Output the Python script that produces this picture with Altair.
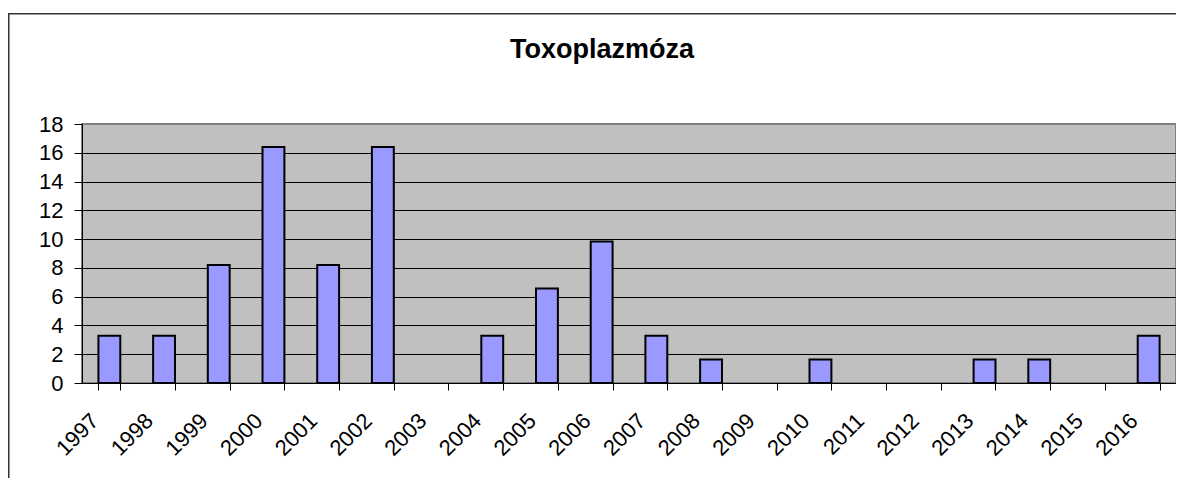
import altair as alt
import pandas as pd

years = ["1997", "1998", "1999", "2000", "2001", "2002", "2003", "2004", "2005", "2006",
         "2007", "2008", "2009", "2010", "2011", "2012", "2013", "2014", "2015", "2016"]
values = [3.28, 3.28, 8.2, 16.4, 8.2, 16.4, 0, 3.28, 6.56, 9.84,
          3.28, 1.64, 0, 1.64, 0, 0, 1.64, 1.64, 0, 3.28]
y_ticks = [0, 2, 4, 6, 8, 10, 12, 14, 16, 18]
title_text = "Toxoplazmóza"

df = pd.DataFrame({"year": years, "value": values})
FONT = "Liberation Sans"

one = alt.Data(values=[{"k": 1}])

top_line = alt.Chart(one).mark_rect(fill="#333333", strokeWidth=0).encode(
    x=alt.value(-74), x2=alt.value(1094), y=alt.value(-111), y2=alt.value(-109.5)
)
left_line = alt.Chart(one).mark_rect(fill="#333333", strokeWidth=0).encode(
    x=alt.value(-74), x2=alt.value(-72.5), y=alt.value(-111), y2=alt.value(400)
)
title = alt.Chart(one).mark_text(
    text=title_text, font=FONT, fontSize=27, fontWeight="bold", color="black",
    align="center", baseline="alphabetic"
).encode(x=alt.value(520), y=alt.value(-66))

bars = alt.Chart(df).transform_filter("datum.value > 0").mark_bar(
    color="#9999FF", stroke="black", strokeWidth=2
).encode(
    x=alt.X("year:N", sort=years, title=None,
            scale=alt.Scale(domain=years, paddingInner=0.6, paddingOuter=0.3),
            axis=alt.Axis(labelAngle=-45, labelAlign="right", labelBaseline="middle",
                          tickBand="extent", labelOffset=-15,
                          labelPadding=27, tickSize=7, tickColor="black",
                          domainColor="black", labelFontSize=22, labelFont=FONT,
                          labelColor="black", grid=False)),
    y=alt.Y("value:Q", title=None,
            scale=alt.Scale(domain=[0, 18], nice=False),
            axis=alt.Axis(values=y_ticks, tickSize=8, tickColor="black",
                          domainColor="black", labelFontSize=22, labelFont=FONT,
                          labelColor="black", labelPadding=11,
                          grid=True,
                          gridColor={"condition": {"test": "datum.value === 18", "value": "#808080"},
                                     "value": "black"},
                          gridWidth=1))
)

chart = alt.layer(top_line, left_line, title, bars).properties(
    width=1094, height=259,
    autosize=alt.AutoSizeParams(type="none"),
    padding={"left": 74, "top": 116, "right": 0, "bottom": 95},
).configure(
    background="white"
).configure_view(
    fill="#C0C0C0", stroke="#808080", strokeWidth=2
)

chart.save("out.html", embed_options={"renderer": "svg", "actions": False})
